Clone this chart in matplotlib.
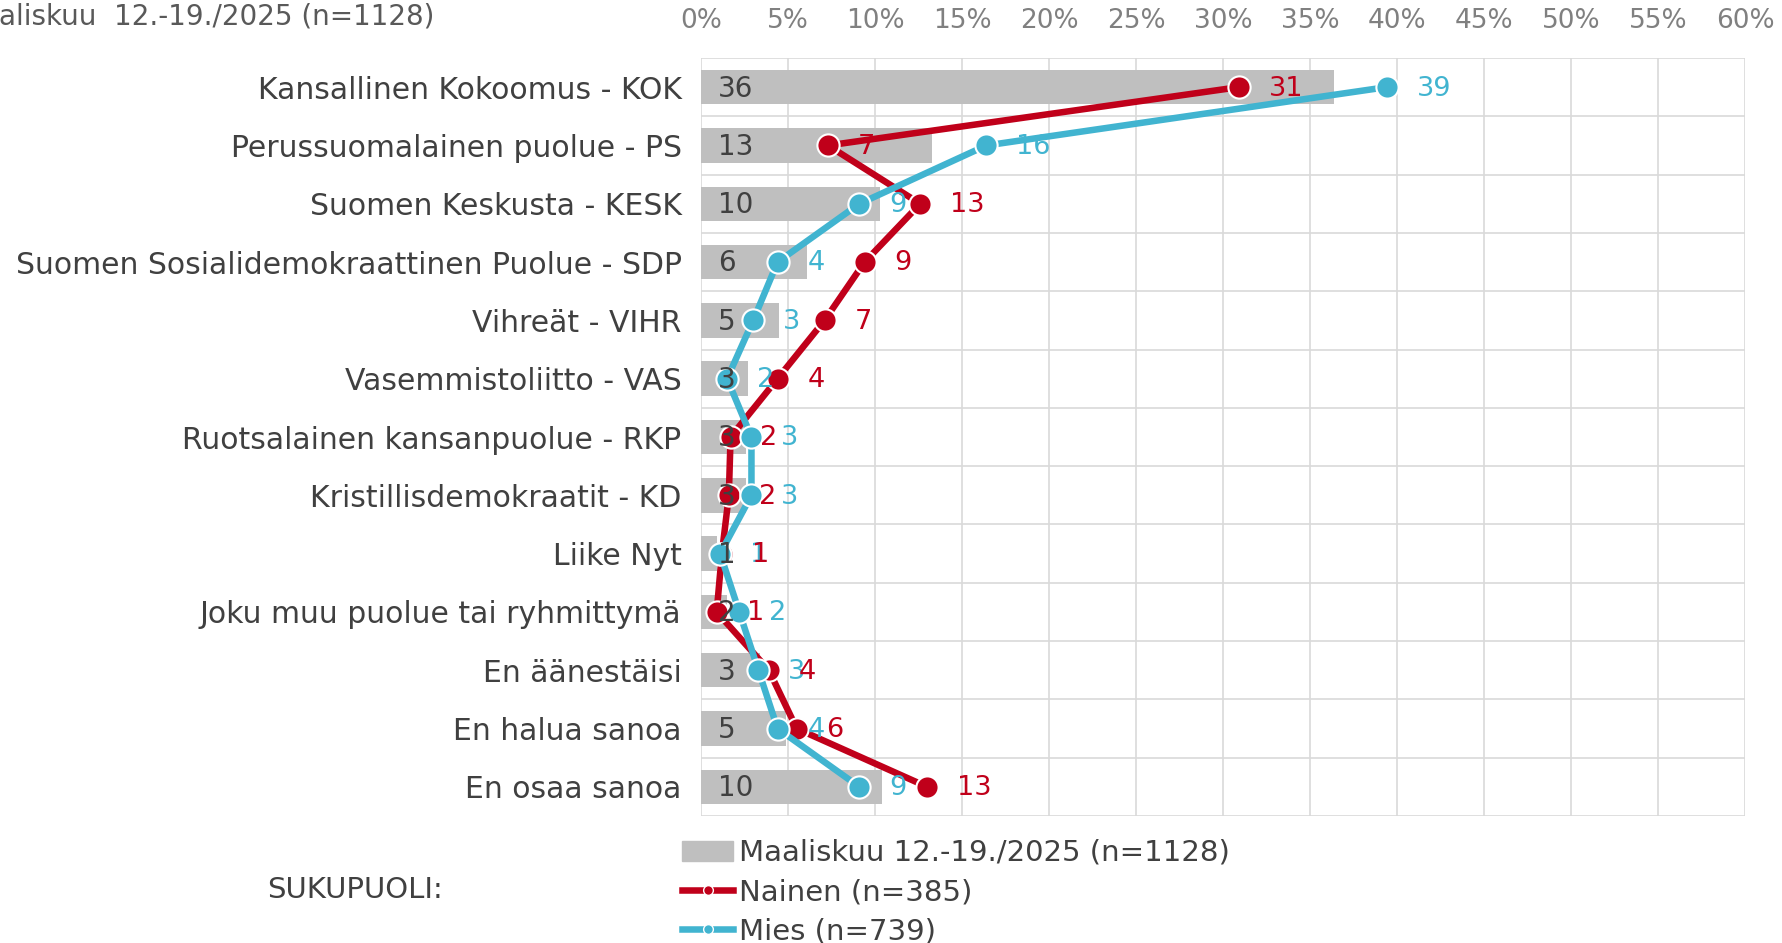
import numpy as np
import matplotlib
matplotlib.use("Agg")
import matplotlib.pyplot as plt
from matplotlib.patches import Patch
from matplotlib.lines import Line2D

# puolueet ylhaalta alas
categories = [
    "Kansallinen Kokoomus - KOK",
    "Perussuomalainen puolue - PS",
    "Suomen Keskusta - KESK",
    "Suomen Sosialidemokraattinen Puolue - SDP",
    "Vihreät - VIHR",
    "Vasemmistoliitto - VAS",
    "Ruotsalainen kansanpuolue - RKP",
    "Kristillisdemokraatit - KD",
    "Liike Nyt",
    "Joku muu puolue tai ryhmittymä",
    "En äänestäisi",
    "En halua sanoa",
    "En osaa sanoa",
]
total = [36.4, 13.3, 10.3, 6.1, 4.5, 2.7, 2.6, 2.6, 0.9, 1.5, 3.4, 4.9, 10.4]
nainen = [30.9, 7.3, 12.6, 9.4, 7.1, 4.4, 1.7, 1.6, 1.2, 0.9, 3.9, 5.5, 13.0]
mies = [39.4, 16.4, 9.1, 4.4, 3.0, 1.5, 2.9, 2.9, 1.1, 2.2, 3.3, 4.4, 9.1]
xticks = list(range(0, 61, 5))

legend_labels = ["Maaliskuu 12.-19./2025 (n=1128)", "Nainen (n=385)", "Mies (n=739)"]
title = "Maaliskuu  12.-19./2025 (n=1128)"

GRAY = "#bfbfbf"
RED = "#c0001a"
CYAN = "#41b4d0"
TXT = "#404040"


def lab(v):
    return str(int(v + 0.5))


W, H = 1782, 943
fig = plt.figure(figsize=(W / 100, H / 100), dpi=100)
ax = fig.add_axes([701 / W, 1 - 816 / H, (1745 - 701) / W, (816 - 58) / H])

y = np.arange(len(categories))
ax.barh(y, total, height=0.59, color=GRAY, zorder=2)
ax.plot(nainen, y, color=RED, lw=4.7, marker="o", ms=16, mec="white", mew=1.5, zorder=3)
ax.plot(mies, y, color=CYAN, lw=4.7, marker="o", ms=16, mec="white", mew=1.5, zorder=4)

for i in range(len(categories)):
    ax.annotate(lab(nainen[i]), (nainen[i], i), xytext=(21.5, -1), textcoords="offset points",
                ha="left", va="center", fontsize=19.5, color=RED, zorder=6)
    ax.annotate(lab(mies[i]), (mies[i], i), xytext=(21.5, -1), textcoords="offset points",
                ha="left", va="center", fontsize=19.5, color=CYAN, zorder=5)
    ax.annotate(lab(total[i]), (0, i), xytext=(12, -1), textcoords="offset points",
                ha="left", va="center", fontsize=20, color=TXT, zorder=7)

ax.set_xlim(0, 60)
ax.set_ylim(len(categories) - 0.5, -0.5)
ax.xaxis.tick_top()
ax.set_xticks(xticks)
ax.set_xticklabels([f"{t}%" for t in xticks])
ax.set_yticks(y)
ax.set_yticklabels(categories)
ax.set_yticks(np.arange(-0.5, len(categories), 1), minor=True)
ax.tick_params(axis="x", length=0, pad=17, labelsize=19, labelcolor="#808080")
ax.tick_params(axis="y", which="both", length=0, pad=14, labelsize=21.5, labelcolor=TXT)
ax.grid(axis="x", which="major", color="#d9d9d9", lw=1.2)
ax.grid(axis="y", which="minor", color="#d9d9d9", lw=1.2)
ax.grid(axis="y", which="major", visible=False)
ax.set_axisbelow(True)
for s in ax.spines.values():
    s.set_visible(False)

handles = [
    Patch(color=GRAY),
    Line2D([], [], color=RED, lw=4.7, marker="o", ms=7, mec="white", mew=1),
    Line2D([], [], color=CYAN, lw=4.7, marker="o", ms=7, mec="white", mew=1),
]
fig.legend(handles, legend_labels, loc="upper left", bbox_to_anchor=(682 / W, 1 - 839 / H),
           frameon=False, fontsize=21, handlelength=1.75, handletextpad=0.22,
           labelspacing=0.38, labelcolor=TXT, borderaxespad=0, borderpad=0)
fig.text(267 / W, 1 - 890 / H, "SUKUPUOLI:", ha="left", va="center", fontsize=21, color=TXT)
fig.text(434 / W, 1 - 2 / H, title, ha="right", va="top", fontsize=20, color="#595959")

fig.savefig("out.png", dpi=100)
